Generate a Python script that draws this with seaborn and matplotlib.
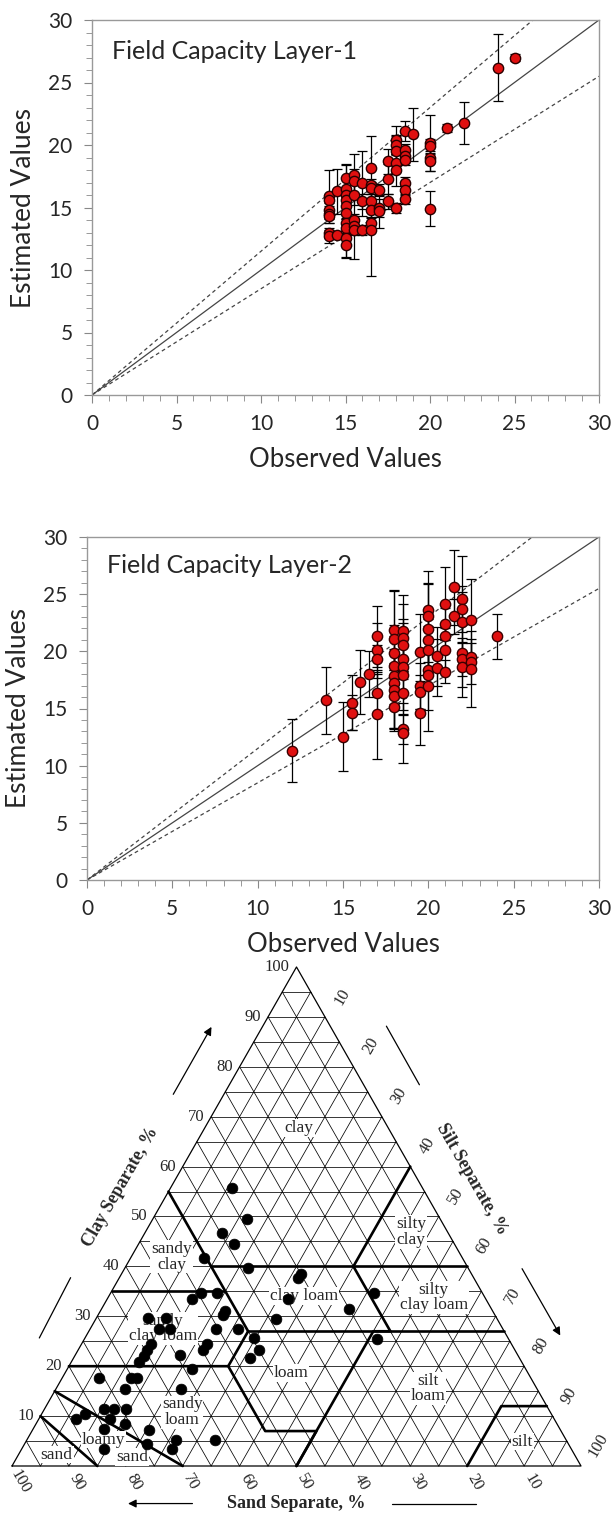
import numpy as np
import pandas as pd
import matplotlib
matplotlib.use("Agg")
import matplotlib.pyplot as plt
from matplotlib.ticker import MultipleLocator
import seaborn as sns

# ---------------- Field capacity, layer 1 ----------------
obs1 = [14, 14, 14, 14, 14, 14, 14,
        14.5, 14.5,
        15, 15, 15, 15, 15, 15, 15, 15, 15, 15,
        15.5, 15.5, 15.5, 15.5, 15.5, 15.5,
        16, 16, 16,
        16.5, 16.5, 16.5, 16.5, 16.5, 16.5, 16.5,
        17, 17, 17,
        17.5, 17.5, 17.5,
        18, 18, 18, 18, 18, 18,
        18.5, 18.5, 18.5, 18.5, 18.5, 18.5, 18.5,
        19,
        20, 20, 20, 20, 20,
        21, 22, 24, 25]
est1 = [15.9, 15.6, 14.8, 14.5, 14.3, 12.95, 12.7,
        16.3, 12.8,
        17.35, 16.5, 16.0, 15.6, 15.1, 14.55, 13.75, 13.35, 12.55, 12.0,
        17.6, 17.1, 16.0, 14.0, 13.5, 13.2,
        16.95, 15.5, 13.2,
        18.15, 16.8, 16.55, 15.5, 14.8, 13.75, 13.2,
        16.4, 14.95, 14.7,
        18.7, 17.25, 15.5,
        20.4, 20.0, 19.5, 18.55, 18.0, 14.95,
        21.1, 19.6, 19.1, 18.8, 16.95, 16.4, 15.65,
        20.85,
        20.15, 19.9, 18.95, 18.7, 14.9,
        21.35, 21.75, 26.2, 27.0]
err1 = [2.1, 0.5, 0.6, 0.4, 0.5, 0.4, 0.5,
        1.8, 0.3,
        1.1, 1.9, 0.6, 0.5, 0.6, 0.5, 0.4, 0.5, 1.5, 1.0,
        1.7, 1.0, 0.8, 0.5, 2.6, 0.4,
        2.6, 0.6, 0.4,
        2.6, 0.5, 0.5, 0.6, 0.6, 0.5, 3.7,
        0.5, 0.7, 1.3,
        1.0, 1.2, 0.6,
        1.1, 0.8, 1.2, 0.7, 1.3, 0.4,
        0.8, 0.5, 0.5, 0.4, 0.5, 0.4, 0.4,
        2.15,
        2.25, 0.6, 0.4, 0.8, 1.4,
        0.3, 1.7, 2.7, 0.3]

# ---------------- Field capacity, layer 2 ----------------
obs2 = [12, 14, 15, 15.5, 15.5, 16, 16.5,
        17, 17, 17, 17, 17,
        18, 18, 18, 18, 18, 18, 18, 18, 18,
        18.5, 18.5, 18.5, 18.5, 18.5, 18.5, 18.5, 18.5, 18.5,
        19.5, 19.5, 19.5, 19.5,
        20, 20, 20, 20, 20, 20, 20, 20,
        20.5, 20.5,
        21, 21, 21, 21, 21,
        21.5, 21.5,
        22, 22, 22, 22, 22, 22,
        22.5, 22.5, 22.5, 22.5,
        24]
est2 = [11.3, 15.7, 12.55, 15.5, 14.65, 17.35, 18.0,
        21.3, 20.1, 19.35, 16.35, 14.5,
        21.9, 21.1, 19.85, 18.75, 17.8, 17.2, 16.6, 16.1, 15.15,
        21.75, 21.15, 20.55, 19.35, 18.65, 17.95, 16.35, 13.2, 12.85,
        19.9, 17.0, 16.45, 14.6,
        23.65, 23.1, 21.95, 20.95, 20.15, 18.35, 17.95, 17.0,
        19.55, 18.55,
        24.15, 22.4, 21.3, 20.15, 18.2,
        25.6, 23.05,
        24.55, 23.7, 22.55, 19.85, 19.35, 18.6,
        22.7, 19.5, 19.1, 18.45,
        21.3]
err2 = [2.75, 2.9, 3.0, 2.4, 1.5, 2.8, 2.0,
        2.7, 2.4, 1.2, 1.7, 3.9,
        3.5, 4.2, 1.5, 1.0, 4.5, 1.8, 3.6, 2.8, 1.9,
        3.2, 3.0, 2.3, 1.8, 3.8, 1.5, 1.9, 1.3, 2.6,
        3.4, 2.0, 1.5, 2.8,
        3.4, 2.8, 4.0, 1.9, 2.1, 1.4, 3.1, 4.0,
        2.6, 2.5,
        3.2, 1.4, 1.2, 1.9, 1.0,
        3.3, 1.5,
        3.8, 2.0, 2.6, 3.0, 1.5, 2.6,
        3.6, 1.2, 2.0, 3.3,
        2.0]

# ---------------- soil samples on the texture triangle (%) ----------------
clay_pts = [55.7, 49.5, 46.6, 44.5, 41.6, 39.7, 38.5, 37.7, 34.6, 34.6,
            33.4, 33.4, 34.6, 31.1, 30.3, 31.5, 29.5, 29.7, 29.7, 27.4,
            27.4, 27.4, 27.4, 25.6, 25.5, 24.5, 23.3, 23.3, 24.5, 23.3,
            22.1, 20.8, 22.3, 21.6, 19.5, 17.7, 17.7, 17.7, 15.5, 15.5,
            11.4, 11.4, 11.4, 10.4, 9.4, 9.4, 8.4, 7.5, 7.3, 5.3,
            4.5, 5.3, 3.4, 3.4]
silt_pts = [10.8, 16.6, 13.6, 16.7, 13.0, 21.6, 31.5, 31.5, 16.0, 18.8,
            14.9, 31.8, 46.4, 21.8, 22.0, 43.4, 31.7, 9.1, 12.2, 12.1,
            14.0, 22.1, 26.0, 29.8, 51.4, 22.1, 21.9, 31.8, 12.2, 12.1,
            12.1, 12.0, 18.3, 31.0, 21.9, 6.4, 12.1, 13.2, 12.1, 21.9,
            10.5, 12.3, 14.3, 7.6, 6.5, 12.5, 15.6, 12.4, 20.5, 26.2,
            21.4, 33.1, 14.5, 26.4]

# USDA class boundaries as (clay, silt) polylines
boundaries = [
    [(10, 0), (0, 15)],
    [(15, 0), (0, 30)],
    [(20, 0), (20, 28), (7, 41), (7, 50), (0, 50)],
    [(20, 28), (27, 28)],
    [(35, 0), (35, 20)],
    [(55, 0), (27, 28)],
    [(27, 28), (27, 73)],
    [(40, 15), (40, 60)],
    [(60, 40), (40, 40), (27, 53), (27, 50), (0, 50)],
    [(0, 80), (12, 80), (12, 88)],
]
class_names = ["clay", "sandy\nclay", "silty\nclay", "clay loam", "silty\nclay loam",
               "sandy\nclay loam", "loam", "silt\nloam", "sandy\nloam",
               "loamy", "sand", "sand", "silt"]
class_clay = [67.8, 41.9, 46.9, 34.1, 33.8, 27.6, 18.6, 15.5, 10.8, 5.3, 1.8, 2.3, 4.9]
class_silt = [16.6, 7.1, 46.7, 34.2, 57.2, 12.7, 39.7, 65.4, 24.5, 13.4, 20.2, 6.7, 87.2]
edge_ticks = [10, 20, 30, 40, 50, 60, 70, 80, 90, 100]

sns.set_style("white")
plt.rcParams['font.family'] = ['Lato', 'DejaVu Sans']

fig = plt.figure(figsize=(6.12, 15.14), dpi=100)
W, H = 612.0, 1514.0


def scatter_panel(ax, obs, est, err, title, mark_edge):
    df = pd.DataFrame({"obs": obs, "est": est, "err": err})
    line_x = np.array([0, 30])
    ax.plot(line_x, line_x, color="#444444", lw=0.9)
    ax.plot(line_x, line_x * 1.15, color="#444444", lw=0.9, ls=(0, (3, 2.5)))
    ax.plot(line_x, line_x * 0.85, color="#444444", lw=0.9, ls=(0, (3, 2.5)))
    ax.errorbar(df.obs, df.est, yerr=df.err, fmt="none", ecolor="black",
                elinewidth=0.9, capsize=3.5, capthick=0.9, zorder=3)
    sns.scatterplot(data=df, x="obs", y="est", ax=ax, s=55, color="#e01010",
                    edgecolor=mark_edge, linewidth=1.0, zorder=4, legend=False)
    ax.set_xlim(0, 30)
    ax.set_ylim(0, 30)
    ax.xaxis.set_major_locator(MultipleLocator(5))
    ax.yaxis.set_major_locator(MultipleLocator(5))
    ax.xaxis.set_minor_locator(MultipleLocator(1))
    ax.yaxis.set_minor_locator(MultipleLocator(1))
    ax.tick_params(which="major", direction="out", length=6, color="#888888",
                   labelsize=15, pad=8, left=True, bottom=True)
    ax.tick_params(which="minor", direction="out", length=4, color="#888888",
                   left=True, bottom=True)
    for sp in ax.spines.values():
        sp.set_color("#999999")
        sp.set_linewidth(1.0)
    ax.set_xlabel("Observed Values", fontsize=18.5, labelpad=9)
    ax.set_ylabel("Estimated Values", fontsize=19, labelpad=9)
    ax.text(1.2, 27.5, title, fontsize=18, va="center", ha="left")


ax1 = fig.add_axes([92 / W, 1 - 395 / H, (599 - 92) / W, (395 - 20) / H])
scatter_panel(ax1, obs1, est1, err1, "Field Capacity Layer-1", "#2a0000")
ax2 = fig.add_axes([87 / W, 1 - 880 / H, (599 - 87) / W, (880 - 537) / H])
scatter_panel(ax2, obs2, est2, err2, "Field Capacity Layer-2", "#3a0000")

# ---------------- texture triangle ----------------
h = 0.877
unit = 569.0
base = 48.0
ax3 = fig.add_axes([0, 0, 1, 600 / H])
ax3.set_xlim(-12 / unit, (W - 12) / unit)
ax3.set_ylim(-base / unit, (600 - base) / unit)
ax3.axis("off")


def tern(clay, silt):
    clay = np.asarray(clay, dtype=float)
    silt = np.asarray(silt, dtype=float)
    return silt / 100 + 0.5 * clay / 100, h * clay / 100


for v in range(5, 100, 5):
    # constant clay, silt and sand lines
    for a, b in [((v, 0), (v, 100 - v)),
                 ((0, v), (100 - v, v)),
                 ((0, 100 - v), (100 - v, 0))]:
        xs, ys = tern([a[0], b[0]], [a[1], b[1]])
        ax3.plot(xs, ys, color="black", lw=0.55, zorder=1)

xs, ys = tern([0, 0, 100, 0], [0, 100, 0, 0])
ax3.plot(xs, ys, color="black", lw=0.9, zorder=2)

for line in boundaries:
    xs, ys = tern([p[0] for p in line], [p[1] for p in line])
    ax3.plot(xs, ys, color="black", lw=1.9, zorder=2, solid_capstyle="round")

serif = ["Liberation Serif", "DejaVu Serif"]
for name, c, s in zip(class_names, class_clay, class_silt):
    x, y = tern(c, s)
    ax3.text(x, y, name, family=serif, fontsize=12.5, ha="center", va="center",
             linespacing=0.95, zorder=3,
             bbox=dict(boxstyle="square,pad=0.05", fc="white", ec="none"))

tx, ty = tern(clay_pts, silt_pts)
sns.scatterplot(x=tx, y=ty, ax=ax3, s=60, color="black", edgecolor="black",
                linewidth=0.5, zorder=4, legend=False)

for v in edge_ticks:
    # clay labels on the left edge
    x, y = tern(v, 0)
    ax3.text(x - 0.012, y, str(v), family=serif, fontsize=12, ha="right", va="center")
    # silt labels on the right edge
    x, y = tern(100 - v, v)
    ax3.text(x + 0.03, y + 0.036, str(v), family=serif, fontsize=12,
             ha="center", va="center", rotation=60)
    # sand labels on the bottom edge
    x, y = tern(0, 100 - v)
    ax3.text(x + 0.014, y - 0.028, str(v), family=serif, fontsize=12,
             ha="center", va="center", rotation=-60)

ax3.text(0.19, 0.49, "Clay Separate, %", family=serif, fontsize=13, weight="bold",
         rotation=60, ha="center", va="center")
ax3.text(0.808, 0.505, "Silt Separate, %", family=serif, fontsize=13, weight="bold",
         rotation=-60, ha="center", va="center")
ax3.text(0.5, -0.066, "Sand Separate, %", family=serif, fontsize=13, weight="bold",
         ha="center", va="center")

arrow_kw = dict(arrowstyle="-|>", color="black", lw=0.9, mutation_scale=12)
ax3.annotate("", xy=(0.353, 0.776), xytext=(0.281, 0.649), arrowprops=arrow_kw)
ax3.plot([0.048, 0.103], [0.225, 0.331], color="black", lw=0.9)
ax3.plot([0.658, 0.716], [0.773, 0.670], color="black", lw=0.9)
ax3.annotate("", xy=(0.966, 0.225), xytext=(0.894, 0.351), arrowprops=arrow_kw)
ax3.annotate("", xy=(0.199, -0.066), xytext=(0.322, -0.066), arrowprops=arrow_kw)
ax3.plot([0.668, 0.815], [-0.066, -0.066], color="black", lw=0.9)

fig.savefig("out.png", dpi=100)
